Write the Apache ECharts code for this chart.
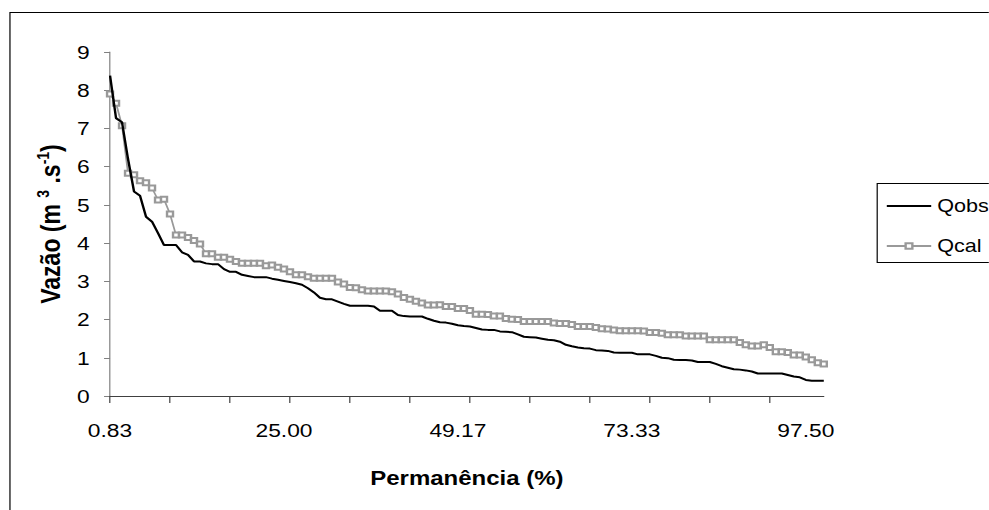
<!DOCTYPE html>
<html>
<head>
<meta charset="utf-8">
<script src="https://cdn.jsdelivr.net/npm/echarts@6/dist/echarts.min.js"></script>
<style>
html,body{margin:0;padding:0;background:#fff;}
#wrap{width:989px;height:510px;overflow:hidden;position:relative;background:#fff;}
#c{width:824px;height:510px;transform:scaleX(1.2);transform-origin:0 0;}
</style>
</head>
<body>
<div id="wrap"><div id="c"></div></div>
<script>
const categories = [
'0.83','1.67','2.50','3.33','4.17','5.00',
'5.83','6.67','7.50','8.33','9.17','10.00',
'10.83','11.67','12.50','13.33','14.17','15.00',
'15.83','16.67','17.50','18.33','19.17','20.00',
'20.83','21.67','22.50','23.33','24.17','25.00',
'25.83','26.67','27.50','28.33','29.17','30.00',
'30.83','31.67','32.50','33.33','34.17','35.00',
'35.83','36.67','37.50','38.33','39.17','40.00',
'40.83','41.67','42.50','43.33','44.17','45.00',
'45.83','46.67','47.50','48.33','49.17','50.00',
'50.83','51.67','52.50','53.33','54.17','55.00',
'55.83','56.67','57.50','58.33','59.17','60.00',
'60.83','61.67','62.50','63.33','64.17','65.00',
'65.83','66.67','67.50','68.33','69.17','70.00',
'70.83','71.67','72.50','73.33','74.17','75.00',
'75.83','76.67','77.50','78.33','79.17','80.00',
'80.83','81.67','82.50','83.33','84.17','85.00',
'85.83','86.67','87.50','88.33','89.17','90.00',
'90.83','91.67','92.50','93.33','94.17','95.00',
'95.83','96.67','97.50','98.33','99.17','100.00'
];

const qobs = [
8.38,7.27,7.16,6.20,5.35,5.24,4.69,4.56,4.26,3.95,
3.95,3.95,3.76,3.69,3.52,3.52,3.47,3.45,3.45,3.32,
3.25,3.25,3.17,3.14,3.11,3.11,3.11,3.07,3.04,3.01,
2.98,2.95,2.91,2.82,2.71,2.57,2.53,2.53,2.47,2.41,
2.36,2.36,2.36,2.36,2.34,2.23,2.23,2.23,2.12,2.09,
2.08,2.08,2.08,2.02,1.97,1.93,1.92,1.89,1.85,1.83,
1.82,1.78,1.74,1.73,1.73,1.69,1.68,1.67,1.61,1.55,
1.54,1.53,1.50,1.47,1.46,1.42,1.34,1.30,1.27,1.25,
1.24,1.20,1.19,1.18,1.14,1.13,1.13,1.13,1.09,1.09,
1.09,1.05,1.00,0.99,0.95,0.94,0.94,0.93,0.89,0.89,
0.89,0.84,0.78,0.74,0.70,0.69,0.67,0.64,0.59,0.59,
0.59,0.59,0.59,0.55,0.51,0.49,0.42,0.40,0.40,0.40
];

const qcal = [
7.90,7.66,7.07,5.83,5.79,5.63,5.58,5.44,5.13,5.15,
4.76,4.21,4.21,4.15,4.07,3.98,3.72,3.72,3.63,3.63,
3.58,3.52,3.47,3.47,3.47,3.47,3.41,3.43,3.37,3.32,
3.25,3.17,3.17,3.12,3.08,3.08,3.08,3.08,2.98,2.93,
2.84,2.83,2.78,2.75,2.75,2.75,2.75,2.73,2.67,2.58,
2.53,2.48,2.43,2.38,2.38,2.39,2.34,2.34,2.29,2.29,
2.24,2.14,2.14,2.13,2.09,2.09,2.03,2.01,2.00,1.95,
1.95,1.95,1.95,1.95,1.91,1.90,1.90,1.87,1.82,1.82,
1.82,1.79,1.76,1.75,1.73,1.71,1.71,1.71,1.71,1.70,
1.66,1.66,1.64,1.60,1.60,1.60,1.57,1.57,1.57,1.57,
1.47,1.47,1.47,1.47,1.47,1.40,1.34,1.31,1.31,1.34,
1.27,1.16,1.16,1.14,1.07,1.07,1.02,0.95,0.87,0.84
];

const yTicks = [0,1,2,3,4,5,6,7,8,9];
const seriesNames = ['Qobs','Qcal'];

const FONT = '"Liberation Sans", Arial, sans-serif';
const chart = echarts.init(document.getElementById('c'), null, {renderer:'svg'});
chart.setOption({
  animation:false,
  backgroundColor:'#fff',
  textStyle:{fontFamily:FONT},
  grid:{left:91.7, right:137.5, top:52, bottom:114, containLabel:false},
  graphic:[
    {type:'rect', shape:{x:8.3, y:12.5, width:1000, height:600}, style:{fill:'none', stroke:'#000', lineWidth:1}, silent:true, z:-1},
    {type:'rect', shape:{x:731, y:183.5, width:200, height:79}, style:{fill:'none', stroke:'#000', lineWidth:1}, silent:true, z:-1}
  ],
  legend:{
    orient:'vertical', left:733, top:192,
    itemWidth:37, itemHeight:7, itemGap:22,
    textStyle:{fontFamily:FONT, fontSize:18, color:'#000'},
    data:[
      {name:seriesNames[0], itemStyle:{opacity:0}},
      {name:seriesNames[1]}
    ]
  },
  xAxis:{
    type:'category', data:categories, boundaryGap:false,
    name:'Permanência (%)', nameLocation:'middle', nameGap:72,
    nameTextStyle:{fontFamily:FONT, fontSize:20, fontWeight:'bold', color:'#000'},
    axisLine:{show:true, lineStyle:{color:'#404040', width:1}},
    axisTick:{show:true, interval:9, length:7, inside:false, lineStyle:{color:'#404040'}},
    axisLabel:{interval:28, fontSize:19, color:'#000', margin:25, fontFamily:FONT},
    splitLine:{show:false}
  },
  yAxis:{
    type:'value', min:yTicks[0], max:yTicks[yTicks.length-1], interval:1,
    name:'{t|Vazão (m }{s|3}{t| .s}{s|-1}{t|)}', nameLocation:'middle', nameGap:33, nameRotate:90,
    nameTextStyle:{fontFamily:FONT, fontSize:23, fontWeight:'bold', color:'#000',
      rich:{
        t:{fontFamily:FONT, fontSize:23, fontWeight:'bold', color:'#000', lineHeight:25},
        s:{fontFamily:FONT, fontSize:14, fontWeight:'bold', color:'#000', verticalAlign:'top', lineHeight:25}
      }},
    axisLine:{show:true, lineStyle:{color:'#808080', width:1}},
    axisTick:{show:true, length:5, lineStyle:{color:'#808080'}},
    axisLabel:{fontSize:19, color:'#000', margin:17, fontFamily:FONT},
    splitLine:{show:false}
  },
  series:[
    {name:seriesNames[0], type:'line', data:qobs, symbol:'none', smooth:false,
     lineStyle:{color:'#000', width:2}, itemStyle:{color:'#000'}, z:3},
    {name:seriesNames[1], type:'line', data:qcal, symbol:'emptyRect', symbolSize:5, showSymbol:true, showAllSymbol:true,
     lineStyle:{color:'#999', width:1.5}, itemStyle:{color:'#999', borderColor:'#999', borderWidth:1.5}, z:2}
  ]
});
</script>
</body>
</html>
